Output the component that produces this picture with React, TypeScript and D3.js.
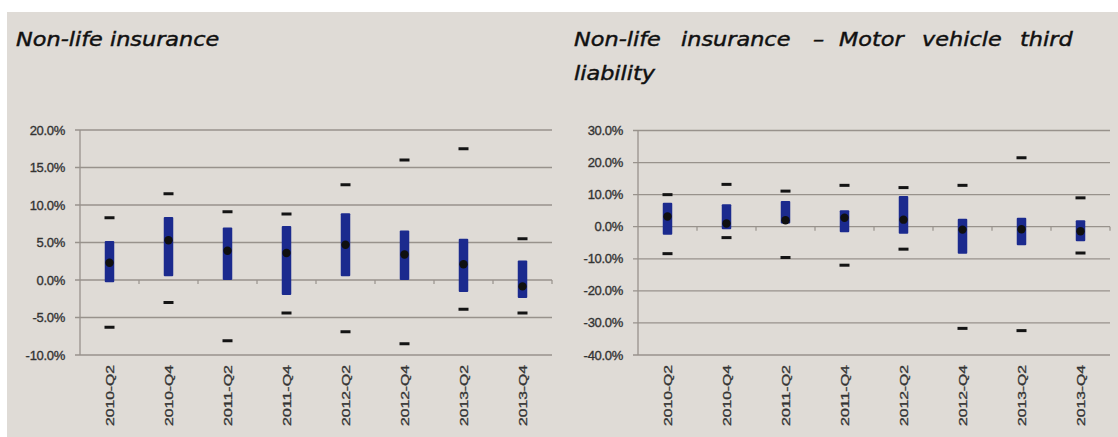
import React from "react";
import * as d3 from "d3";

const categories = ["2010-Q2", "2010-Q4", "2011-Q2", "2011-Q4", "2012-Q2", "2012-Q4", "2013-Q2", "2013-Q4"];

// Non-life insurance (values in %)
const nlMax = [8.3, 11.5, 9.1, 8.8, 12.7, 16.0, 17.5, 5.5];
const nlQ3 = [5.2, 8.4, 7.0, 7.2, 8.9, 6.6, 5.5, 2.6];
const nlMed = [2.3, 5.3, 3.9, 3.6, 4.7, 3.4, 2.1, -0.85];
const nlQ1 = [-0.3, 0.5, 0.0, -2.0, 0.5, 0.0, -1.6, -2.4];
const nlMin = [-6.3, -3.0, -8.1, -4.4, -6.9, -8.5, -3.9, -4.4];
const nlTicks = [20, 15, 10, 5, 0, -5, -10];

// Motor vehicle third liability (values in %)
const mtMax = [10.0, 13.2, 11.1, 12.9, 12.2, 12.9, 21.5, 9.0];
const mtQ3 = [7.5, 7.0, 8.0, 5.1, 9.6, 2.5, 2.8, 2.0];
const mtMed = [3.2, 1.0, 2.0, 2.8, 2.2, -0.9, -0.8, -1.4];
const mtQ1 = [-2.5, -0.8, 1.0, -1.7, -2.2, -8.4, -5.8, -4.5];
const mtMin = [-8.4, -3.4, -9.6, -12.0, -7.0, -31.7, -32.4, -8.2];
const mtTicks = [30, 20, 10, 0, -10, -20, -30, -40];

const BG = "#dfdbd6";
const GRID = "#98928c";
const BAR = "#1b2a8e";
const LABEL = "#333333";

type PanelProps = {
  x0: number;
  x1: number;
  yTop: number;
  yBottom: number;
  ticks: number[];
  max: number[];
  q3: number[];
  med: number[];
  q1: number[];
  min: number[];
};

function Panel({ x0, x1, yTop, yBottom, ticks, max, q3, med, q1, min }: PanelProps) {
  const x = d3.scaleBand<string>().domain(categories).range([x0, x1]);
  const y = d3
    .scaleLinear()
    .domain([d3.min(ticks) as number, d3.max(ticks) as number])
    .range([yBottom, yTop]);
  const bw = 9.5;
  const dash = 10;
  const fmt = (v: number) => v.toFixed(1) + "%";
  const y0 = y(0);
  return (
    <g>
      {ticks.map((t) => (
        <g key={t}>
          <line x1={x0 - 5} x2={x1} y1={y(t)} y2={y(t)} stroke={GRID} strokeWidth={1.3} />
          <text
            x={x0 - 15}
            y={y(t)}
            textAnchor="end"
            dominantBaseline="central"
            fontFamily="'Liberation Sans', Arial, sans-serif"
            fontSize={13}
            fill={LABEL}
            stroke={LABEL}
            strokeWidth={0.35}
            letterSpacing={-0.3}
          >
            {fmt(t)}
          </text>
        </g>
      ))}
      <line x1={x0} x2={x0} y1={yTop} y2={yBottom} stroke={GRID} strokeWidth={1.3} />
      {categories.map((c) => (
        <line
          key={"t" + c}
          x1={(x(c) as number) + x.bandwidth()}
          x2={(x(c) as number) + x.bandwidth()}
          y1={y0}
          y2={y0 + 4}
          stroke={GRID}
          strokeWidth={1.2}
        />
      ))}
      {categories.map((c, i) => {
        const cx = (x(c) as number) + x.bandwidth() / 2;
        return (
          <g key={c}>
            <rect x={cx - bw / 2} y={y(q3[i])} width={bw} height={y(q1[i]) - y(q3[i])} fill={BAR} rx={1} />
            <rect x={cx - dash / 2} y={y(max[i]) - 1.5} width={dash} height={3} fill="#141414" />
            <rect x={cx - dash / 2} y={y(min[i]) - 1.5} width={dash} height={3} fill="#141414" />
            <circle cx={cx} cy={y(med[i])} r={4.2} fill="#101010" />
            <text
              transform={`translate(${cx},${yBottom + 10}) rotate(-90)`}
              textAnchor="end"
              dominantBaseline="central"
              fontFamily="'Liberation Sans', Arial, sans-serif"
              fontSize={10.5}
              fill={LABEL}
              stroke={LABEL}
              strokeWidth={0.3}
              textLength={61}
              lengthAdjust="spacingAndGlyphs"
            >
              {c}
            </text>
          </g>
        );
      })}
    </g>
  );
}

const titleLeft = "Non-life insurance";
const titleRightWords = ["Non-life", "insurance", "\u2013", "Motor", "vehicle", "third"];
const titleRightX = [574, 681, 813, 839, 922, 1020];
const titleRightLine2 = "liability";

export default function App() {
  const W = 1118;
  const H = 437;
  const titleStyle = {
    fontFamily: "'DejaVu Sans', Verdana, sans-serif",
    fontStyle: "italic" as const,
    fontSize: 20,
    fill: "#111111",
    stroke: "#111111",
    strokeWidth: 0.45,
  };
  const sx = 1.12;
  return (
    <svg width={W} height={H} style={{ position: "absolute", left: 0, top: 0 }}>
      <rect x={0} y={0} width={W} height={H} fill="#ffffff" />
      <rect x={7} y={12} width={W - 7} height={H - 12} fill={BG} />
      <g transform={`translate(16,46) scale(${sx},1)`}>
        <text {...titleStyle}>{titleLeft}</text>
      </g>
      {titleRightWords.map((w, i) => (
        <g key={w} transform={`translate(${titleRightX[i]},46) scale(${sx},1)`}>
          <text {...titleStyle}>{w}</text>
        </g>
      ))}
      <g transform={`translate(574,80) scale(${sx},1)`}>
        <text {...titleStyle}>{titleRightLine2}</text>
      </g>
      <Panel x0={80} x1={552} yTop={130} yBottom={355} ticks={nlTicks} max={nlMax} q3={nlQ3} med={nlMed} q1={nlQ1} min={nlMin} />
      <Panel x0={638} x1={1110} yTop={130.5} yBottom={355} ticks={mtTicks} max={mtMax} q3={mtQ3} med={mtMed} q1={mtQ1} min={mtMin} />
    </svg>
  );
}
